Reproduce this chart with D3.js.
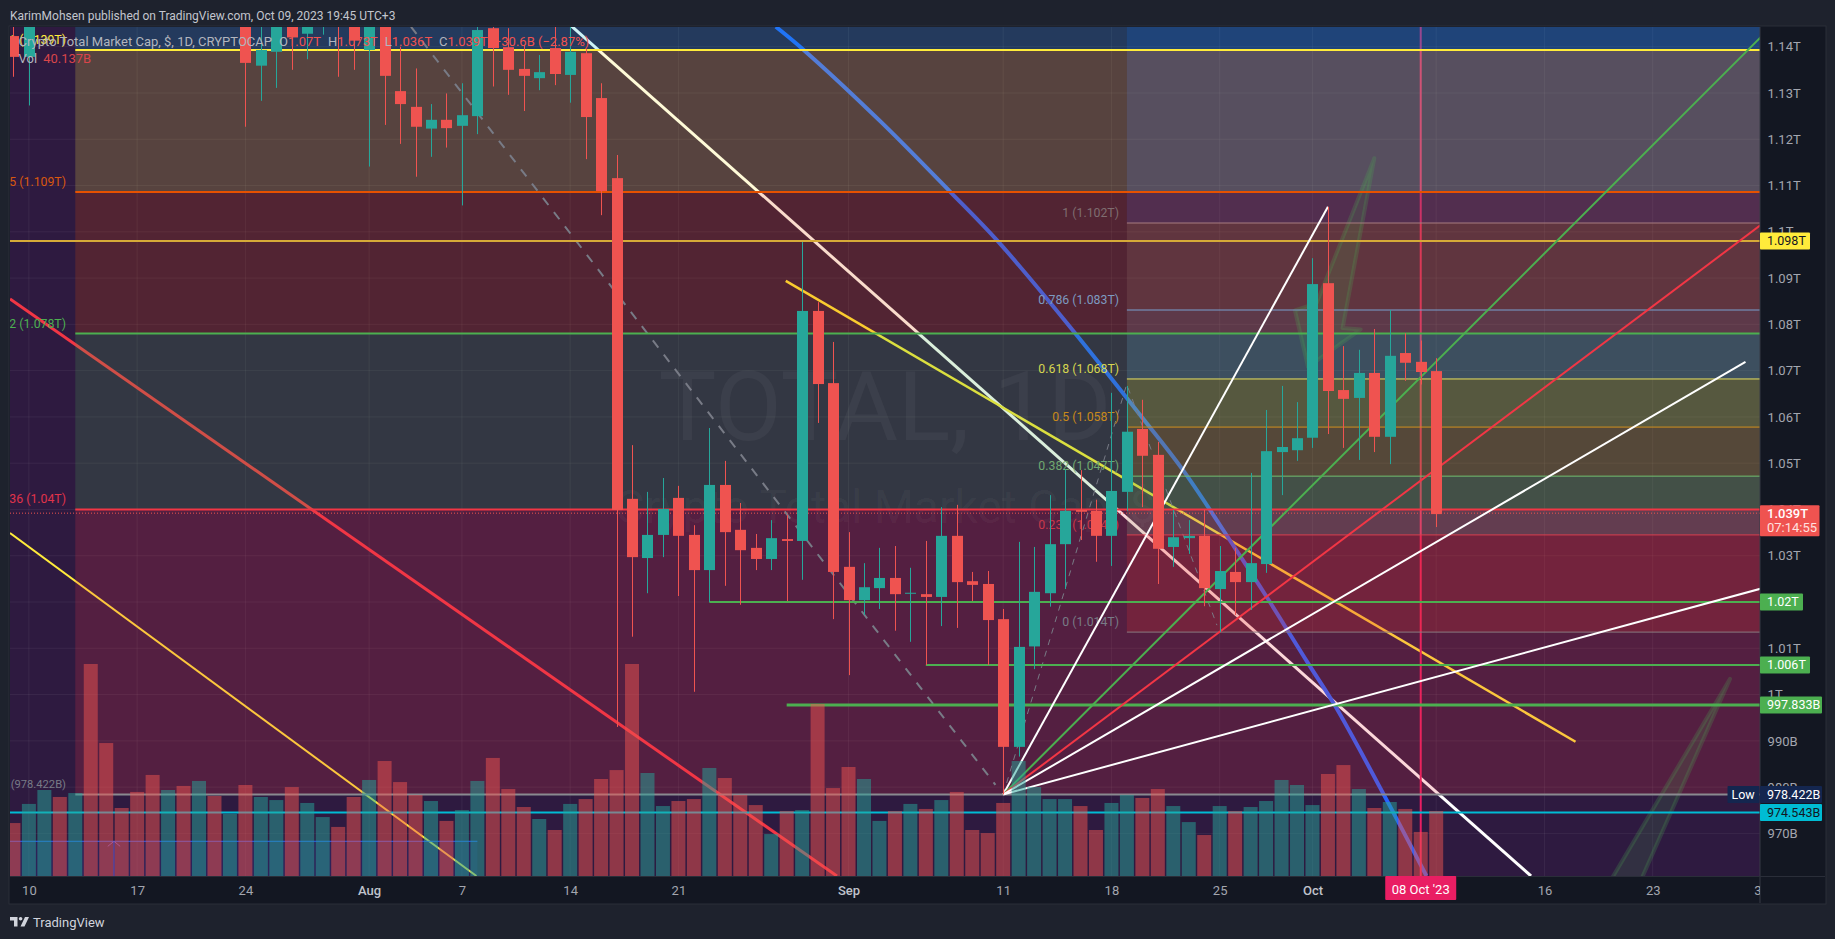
<!DOCTYPE html>
<html>
<head>
<meta charset="utf-8">
<style>
  html, body { margin: 0; padding: 0; background: #1e222d; overflow: hidden; }
  svg { display: block; }
  text { font-family: Roboto, "Liberation Sans", sans-serif; }
</style>
<script src="https://cdnjs.cloudflare.com/ajax/libs/d3/7.8.5/d3.min.js"></script>
</head>
<body>
<svg id="chart" width="1835" height="939"></svg>
<script>
// candles, day -1 (Jul 9) to day 91 (Oct 9), prices in billions
var opens = [1142.3,1137.8,1148,1156,1150,1162,1156,1152,1150,1149,1147,1152,1148,1153,1149,
  1147,1135.9,1138.9,1146,1142.8,1146,1150,1146,1139.3,1146,1130.4,1127,1122.3,1124.2,1122.9,1125,
  1144,1139.9,1135.2,1133.2,1139.7,1133.9,1138.6,1128.9,1111.6,1042.3,1029.5,1034.5,1042.5,1034.5,
  1026.9,1045.3,1035.6,1031.7,1029.3,1033.6,1033.2,1082.9,1067.3,1027.6,1020.4,1023,1025.2,1021.8,
  1021.7,1021.1,1034.3,1024.5,1023.9,1016.3,988.7,1010.4,1021.9,1032.5,1039.9,1039.7,1034.3,1043.8,
  1057.4,1051.8,1031.9,1033.8,1034.3,1022.8,1026.5,1024.3,1028.2,1052.4,1052.8,1055.5,1088.9,1065.8,
  1064.1,1069.5,1055.7,1073.8,1071.9,1069.9];
var highs = [1146,1150,1158,1158,1164,1165,1158,1154,1152,1151,1149,1154,1150,1155,1157,
  1150,1146,1148,1148,1148,1150,1152,1150,1148,1148,1140,1135.3,1127.6,1129.9,1132.1,1146,
  1147,1144,1140.4,1138.2,1146,1146,1139.6,1132.1,1116.6,1053.9,1043.8,1046.8,1045.1,1036.6,
  1057.6,1050.5,1041.4,1034.7,1037.7,1038.8,1097.8,1084.8,1076.2,1035.1,1028.4,1031.7,1032.1,1027.4,
  1033.2,1040.5,1041,1026.5,1026.7,1018.5,1033,1031.9,1043.1,1048.7,1048.5,1042.1,1065.2,1066.7,
  1063.7,1054.6,1039.9,1037.7,1039.9,1032.1,1031.7,1047.9,1061.5,1066.7,1063.2,1094.3,1105.4,1075.3,
  1074.5,1079,1083.1,1078.1,1076.5,1072.7];
var lows = [1133.5,1127.3,1146,1148,1148,1154,1150,1148,1147,1146,1145.5,1146,1146,1147,1146,
  1122.7,1128.3,1131.1,1135,1137.3,1142.6,1133.5,1135,1114.1,1123.1,1119,1111.9,1116.2,1118.2,1105.7,1121.1,
  1131.4,1129.6,1126.1,1130.6,1131.7,1127.9,1115.7,1103.6,993,1012.5,1021.9,1029.7,1021.3,1000.6,
  1020,1023.5,1019.4,1026.9,1026.9,1020.2,1024.8,1058.7,1016.3,1004.2,1017.2,1018.5,1013.8,1011.4,
  1006.4,1014.8,1014.4,1020.2,1006.4,978.42,986.6,1005.5,1019,1022.8,1033.4,1028.7,1027.8,1039.7,
  1040.5,1023.9,1027.6,1030.4,1019.1,1013.5,1017.2,1018.3,1026.3,1043.1,1050.5,1053.3,1056.3,1053.3,
  1050.7,1052.4,1049.8,1067.8,1067,1036.2];
var closes = [1137.8,1148,1156,1150,1162,1156,1152,1150,1149,1147,1152,1148,1153,1149,1155,
  1136.5,1139.3,1146,1142,1146,1148,1146,1141.3,1146,1133.7,1127.6,1122.7,1124.2,1122.4,1125.2,1143.6,
  1139.7,1135,1133.7,1134.5,1134.1,1138.9,1124.8,1108.8,1039.9,1029.7,1034.5,1040.1,1034.3,1026.9,
  1045.3,1035.1,1031.2,1029.3,1033.8,1033.2,1082.9,1067.1,1026.5,1020.4,1023.2,1025.2,1021.7,1022,
  1021.1,1034.3,1024.3,1023.7,1016.1,988.7,1010.3,1022.2,1032.5,1039.7,1039.5,1034.3,1044,1056.8,
  1051.6,1031.5,1034,1034.3,1023,1026.7,1024.3,1028.4,1052.6,1053.5,1055.4,1088.7,1065.6,1063.9,
  1069.5,1055.7,1073.2,1071.7,1069.7,1039];
var volumes = [32.7,44.5,53.1,48.8,51.2,130.9,82.1,42,51.9,62.4,53.1,55.6,58.7,49.4,38.3,
  56.2,48.8,46.9,54.9,45.1,36.4,30.3,48.8,59.3,71,58,50,46.3,34,40.7,58.7,
  72.9,53.7,42.6,35.2,28.4,44.5,47.5,59.9,65.4,130.9,63.6,43.2,46.3,47.5,
  66.7,60.5,50,43.8,25.9,40.1,40.7,106.2,54.3,67.3,59.9,34,40.1,44.5,
  41.4,46.9,51.9,28.4,26.5,45.1,71,54.9,47.5,47.5,43.2,28.4,45.1,50,
  48.2,53.7,43.2,33.3,25.3,43.2,40.1,42.6,46.3,59.3,56.2,43.8,63,68.5,
  53.7,42,45.7,41.4,27.2,40.137];

// axis ticks, days counted from Jul 10
var timeTickDays = [0,7,14,22,28,35,42,53,63,70,77,83,91,98,105,112];
var timeTickLabels = ["10","17","24","Aug","7","14","21","Sep","11","18","25","Oct","9","16","23","30"];
var priceTicks = [970,980,990,1000,1010,1020,1030,1040,1050,1060,1070,1080,1090,1100,1110,1120,1130,1140];

// fib zones, edges in billions
var leftEdges = [1145,1139.3,1108.6,1078,1040,978.42];
var leftTints = ["#00bcd4","#ffeb3b","#e65100","#4caf50","#f23645"];
var rightEdges = [1145,1139.3,1108.6,1101.9,1083.1,1078,1068.2,1057.8,1047.2,1040,1034.5,1013.5];
var rightTints = ["#0f6eed","#5a84e0","#535cc4","#997f74","#8a91a7","#6bb0d4","#e8dd34","#e38d16","#89b55c","#a0bb8c","#f0392d"];
var fibPrices = [1101.9,1083.1,1068.2,1057.8,1047.2,1034.5,1013.5];
var fibLabels = ["1 (1.102T)","0.786 (1.083T)","0.618 (1.068T)","0.5 (1.058T)","0.382 (1.047T)","0.236 (1.034T)","0 (1.014T)"];
var fibLineColors = ["#a87d80","#78a0d0","#e8e060","#d09020","#70c070","#d84050","#8a7a80"];
var fibTextColors = ["#7f6d70","#7d9ac0","#d6d650","#c98a1a","#70a870","#c8384a","#787b86"];

var leftLabelPrices = [1139.3,1108.6,1078,1040,978.42];
var leftLabels = ["1 (1.139T)","5 (1.109T)","2 (1.078T)","36 (1.04T)","(978.422B)"];
var leftLabelColors = ["#ffeb3b","#d9580f","#4caf50","#e0334a","#787b86"];

// trend lines as [day, price] pairs
var pivot = [63,978.42];
var backLines = [
  {pts:[[35,1144.7],[97.13,960.8]], color:"#ffffff", w:3},
  {pts:[[-1.22,1085.5],[52.25,960.8]], color:"#f23645", w:3},
  {pts:[[-1.22,1034.9],[28.94,960.8]], color:"#ffeb3b", w:2},
  {pts:[[48.94,1089.4],[100.01,989.8]], color:"#ffeb3b", w:2.5}
];
var blueArc = [[48.3,1144.3],[50.1,1139.3],[55.08,1123.8],[59.56,1108.7],[62.62,1098.1],[66.97,1080.9],
  [71.96,1060],[74.63,1048.5],[77.98,1031.7],[80.02,1021.2],[82.71,1006.8],[84.49,997.4],[87.69,977.9],[90.37,960.8]];
var dashedLines = [
  {pts:[[24.71,1144.3],[62.5,980.5]], w:2, dash:"9,9"},
  {pts:[pivot,[70.94,1066.5]], w:1, dash:"6,6"},
  {pts:[[71.07,1066.3],[76.82,1015]], w:1, dash:"6,6"}
];
var fanEnds = [[84,1105.4],[112,1142.1],[112,1101.5],[111,1071.9],[112,1022.9]];
var fanColors = ["#ffffff","#4caf50","#f23645","#ffffff","#ffffff"];
var arrowOne = [[87,1115.9],[84.95,1079.2],[86.12,1078.9],[82.71,1070.8],[81.87,1083],[83.27,1084.6]];
var arrowTwo = [[110,1003.4],[101.3,954.3],[103.5,954.3]];
var entryMark = [[5.1,967.2],[5.5,968.3],[5.9,967.2]];

// horizontal levels: price, first day, colour, width
var levelPrices = [1139.3,1108.6,1098,1078,1040,1020,1006.4,997.75,978.42,974.54];
var levelStarts = [3,3,-2,3,3,44,58,49,3,-2];
var levelColors = ["#ffeb3b","#e65100","#d6aa38","#4caf50","#f23645","#4caf50","#4caf50","#4caf50","#8a8a90","#00bcd4"];
var levelWidths = [2,2,2,2,2,2,2,3,2,2];

var svg = d3.select("#chart");
var plot = {left: 10, right: 1760, top: 27, bottom: 876};
var firstDay = Date.UTC(2023, 6, 10), DAY = 864e5;
function dayDate(d) { return new Date(firstDay + d * DAY); }

var x = d3.scaleUtc()
  .domain([dayDate(0), dayDate(105)])
  .range([28.9, 1652.7]);
var y = d3.scaleLinear()
  .domain([970, 1140])
  .range([833.4, 46.7]);
var vol = d3.scaleLinear()
  .domain([0, 130.9])
  .range([plot.bottom, plot.bottom - 212]);
function px(p) { return [x(dayDate(p[0])), y(p[1])]; }

function fmtPrice(v) {
  return v >= 1000 ? (v / 1000) + "T" : v + "B";
}

svg.append("clipPath").attr("id", "clip").append("rect")
  .attr("x", plot.left).attr("y", plot.top)
  .attr("width", plot.right - plot.left).attr("height", plot.bottom - plot.top);

// frame and axis panels
svg.append("rect").attr("x", 9).attr("y", 26).attr("width", 1817).attr("height", 878)
  .attr("fill", "#131722").attr("stroke", "#2a2e39");
var g = svg.append("g").attr("clip-path", "url(#clip)");
g.append("rect").attr("x", plot.left).attr("y", plot.top)
  .attr("width", plot.right - plot.left).attr("height", plot.bottom - plot.top)
  .attr("fill", "#2e1a40");

// grid and axes
var xAxis = d3.axisBottom(x)
  .tickValues(timeTickDays.map(dayDate))
  .tickFormat(function(d, i) { return timeTickLabels[i]; })
  .tickSize(0).tickPadding(0);
var yAxis = d3.axisRight(y)
  .tickValues(priceTicks)
  .tickFormat(fmtPrice)
  .tickSize(0).tickPadding(0);

g.selectAll(".vgrid").data(timeTickDays).enter().append("line")
  .attr("x1", function(d) { return x(dayDate(d)); })
  .attr("x2", function(d) { return x(dayDate(d)); })
  .attr("y1", plot.top).attr("y2", plot.bottom)
  .attr("stroke", "#ffffff").attr("stroke-opacity", 0.06);
g.selectAll(".hgrid").data(priceTicks).enter().append("line")
  .attr("x1", plot.left).attr("x2", plot.right)
  .attr("y1", function(d) { return y(d); })
  .attr("y2", function(d) { return y(d); })
  .attr("stroke", "#ffffff").attr("stroke-opacity", 0.06);

// drawings that sit under the fib fills
var lineGen = d3.line().x(function(p) { return px(p)[0]; }).y(function(p) { return px(p)[1]; });
g.selectAll(".back").data(backLines).enter().append("path")
  .attr("d", function(d) { return lineGen(d.pts); })
  .attr("fill", "none")
  .attr("stroke", function(d) { return d.color; })
  .attr("stroke-width", function(d) { return d.w; });
g.append("path")
  .attr("d", lineGen.curve(d3.curveCatmullRom)(blueArc))
  .attr("fill", "none").attr("stroke", "#2962ff").attr("stroke-width", 4);
lineGen.curve(d3.curveLinear);

// crosshair
g.append("line")
  .attr("x1", x(dayDate(90))).attr("x2", x(dayDate(90)))
  .attr("y1", plot.top).attr("y2", plot.bottom)
  .attr("stroke", "#e91e63").attr("stroke-width", 2);

// fib fills
function fillBands(edges, tints, startX) {
  g.selectAll(null).data(tints).enter().append("rect")
    .attr("x", startX).attr("width", plot.right - startX)
    .attr("y", function(d, i) { return y(edges[i]); })
    .attr("height", function(d, i) { return y(edges[i + 1]) - y(edges[i]); })
    .attr("fill", function(d) { return d; })
    .attr("fill-opacity", 0.2);
}
fillBands(leftEdges, leftTints, x(dayDate(3)));
fillBands(rightEdges, rightTints, x(dayDate(71)));

// watermark
g.append("text").attr("x", 885).attr("y", 440).attr("text-anchor", "middle")
  .attr("font-size", 97).attr("fill", "#ffffff").attr("fill-opacity", 0.045).text("TOTAL, 1D");
g.append("text").attr("x", 885).attr("y", 523).attr("text-anchor", "middle")
  .attr("font-size", 46).attr("fill", "#ffffff").attr("fill-opacity", 0.045).text("Crypto Total Market Cap, $");

// dashed drawings and arrows
g.selectAll(".dash").data(dashedLines).enter().append("path")
  .attr("d", function(d) { return lineGen(d.pts); })
  .attr("fill", "none").attr("stroke", "#787b86")
  .attr("stroke-width", function(d) { return d.w; })
  .attr("stroke-dasharray", function(d) { return d.dash; });
g.selectAll(".arrow").data([arrowOne, arrowTwo]).enter().append("path")
  .attr("d", function(d) { return lineGen(d) + "Z"; })
  .attr("fill", "#4caf50").attr("fill-opacity", 0.15)
  .attr("stroke", "#4caf50").attr("stroke-opacity", 0.22).attr("stroke-width", 4)
  .attr("stroke-linejoin", "round");

// blue position box bottom left
g.append("rect")
  .attr("x", plot.left).attr("y", y(968.3))
  .attr("width", x(dayDate(29)) - plot.left).attr("height", plot.bottom - y(968.3))
  .attr("fill", "#2962ff").attr("fill-opacity", 0.12);
g.append("line")
  .attr("x1", plot.left).attr("x2", x(dayDate(29)))
  .attr("y1", y(968.3)).attr("y2", y(968.3))
  .attr("stroke", "#2962ff").attr("stroke-width", 1);
g.append("line")
  .attr("x1", x(dayDate(5.5))).attr("x2", x(dayDate(5.5)))
  .attr("y1", y(968.3)).attr("y2", plot.bottom)
  .attr("stroke", "#6a5acd").attr("stroke-width", 1);
g.append("path").attr("d", lineGen(entryMark))
  .attr("fill", "none").attr("stroke", "#6a5acd");

// level lines
var levelIdx = d3.range(levelPrices.length);
g.selectAll(".level").data(levelIdx).enter().append("line")
  .attr("x1", function(i) { return x(dayDate(levelStarts[i])); })
  .attr("x2", plot.right)
  .attr("y1", function(i) { return y(levelPrices[i]); })
  .attr("y2", function(i) { return y(levelPrices[i]); })
  .attr("stroke", function(i) { return levelColors[i]; })
  .attr("stroke-width", function(i) { return levelWidths[i]; });

// second fib levels and labels
g.selectAll(".fibline").data(fibPrices).enter().append("line")
  .attr("x1", x(dayDate(71))).attr("x2", plot.right)
  .attr("y1", function(d) { return y(d); })
  .attr("y2", function(d) { return y(d); })
  .attr("stroke", function(d, i) { return fibLineColors[i]; });
g.selectAll(".fiblabel").data(fibPrices).enter().append("text")
  .attr("x", 1119).attr("y", function(d) { return y(d) - 6; })
  .attr("text-anchor", "end").attr("font-size", 12.3)
  .attr("fill", function(d, i) { return fibTextColors[i]; })
  .text(function(d, i) { return fibLabels[i]; });
g.selectAll(".leftlabel").data(leftLabelPrices).enter().append("text")
  .attr("x", 66).attr("y", function(d) { return y(d) - 6; })
  .attr("text-anchor", "end")
  .attr("font-size", function(d, i) { return i === 4 ? 11.2 : 12.3; })
  .attr("fill", function(d, i) { return leftLabelColors[i]; })
  .text(function(d, i) { return leftLabels[i]; });

// last price dotted line
g.append("line")
  .attr("x1", plot.left).attr("x2", plot.right)
  .attr("y1", y(1039.2)).attr("y2", y(1039.2))
  .attr("stroke", "#ef5350").attr("stroke-dasharray", "1,2");

// pitchfan
g.selectAll(".fan").data(fanEnds).enter().append("path")
  .attr("d", function(d) { return lineGen([pivot, d]); })
  .attr("fill", "none")
  .attr("stroke", function(d, i) { return fanColors[i]; })
  .attr("stroke-width", 2);

// volume
var UP = "#26a69a", DOWN = "#ef5350";
var days = d3.range(-1, 92);
function isUp(i) { return closes[i] >= opens[i]; }
g.selectAll(".vol").data(days).enter().append("rect")
  .attr("x", function(d) { return x(dayDate(d)) - 7; })
  .attr("width", 14)
  .attr("y", function(d, i) { return vol(volumes[i]); })
  .attr("height", function(d, i) { return plot.bottom - vol(volumes[i]); })
  .attr("fill", function(d, i) { return isUp(i) ? UP : DOWN; })
  .attr("fill-opacity", 0.5);

// candles
g.selectAll(".wick").data(days).enter().append("line")
  .attr("x1", function(d) { return Math.round(x(dayDate(d))) + 0.5; })
  .attr("x2", function(d) { return Math.round(x(dayDate(d))) + 0.5; })
  .attr("y1", function(d, i) { return y(highs[i]); })
  .attr("y2", function(d, i) { return y(lows[i]); })
  .attr("stroke", function(d, i) { return isUp(i) ? UP : DOWN; });
g.selectAll(".body").data(days).enter().append("rect")
  .attr("x", function(d) { return Math.round(x(dayDate(d))) - 5; })
  .attr("width", 11)
  .attr("y", function(d, i) { return y(Math.max(opens[i], closes[i])); })
  .attr("height", function(d, i) { return Math.max(1, Math.abs(y(opens[i]) - y(closes[i]))); })
  .attr("fill", function(d, i) { return isUp(i) ? UP : DOWN; });

// chart legend
var legend = g.append("text").attr("x", 18.6).attr("y", 46).attr("font-size", 13).attr("fill", "#b2b5be");
legend.append("tspan").text("Crypto Total Market Cap, $, 1D, CRYPTOCAP");
[["O","1.07T"],["H","1.073T"],["L","1.036T"],["C","1.039T"]].forEach(function(p) {
  legend.append("tspan").text(p[0]).attr("dx", 7);
  legend.append("tspan").text(p[1]).attr("fill", "#ef5350");
});
legend.append("tspan").text("\u221230.6B (\u22122.87%)").attr("fill", "#ef5350").attr("dx", 6);
var volText = g.append("text").attr("x", 18.6).attr("y", 63).attr("font-size", 13).attr("fill", "#b2b5be");
volText.append("tspan").text("Vol");
volText.append("tspan").text("40.137B").attr("fill", "#d8454a").attr("dx", 6);

// price axis
var yg = svg.append("g").attr("transform", "translate(1767.6,0)").call(yAxis);
yg.select(".domain").remove();
yg.selectAll("text").attr("x", 0).attr("font-size", 13).attr("fill", "#a3a6af");
svg.append("line").attr("x1", plot.right).attr("x2", plot.right).attr("y1", 27).attr("y2", 903).attr("stroke", "#363a45");
svg.append("line").attr("x1", 10).attr("x2", 1825).attr("y1", 876.5).attr("y2", 876.5).attr("stroke", "#2a2e39");

// time axis
svg.append("clipPath").attr("id", "timeclip").append("rect")
  .attr("x", plot.left).attr("y", -20).attr("width", plot.right - plot.left).attr("height", 40);
var xg = svg.append("g").attr("transform", "translate(0,890)").call(xAxis);
xg.select(".domain").remove();
xg.selectAll("text").attr("y", 0).attr("dy", "0.35em").attr("font-size", 13)
  .attr("fill", function(d, i) { return /[A-Z]/.test(timeTickLabels[i]) ? "#c0c3cc" : "#a3a6af"; })
  .attr("font-weight", function(d, i) { return /[A-Z]/.test(timeTickLabels[i]) ? 500 : 400; });
xg.attr("clip-path", "url(#timeclip)");

// price tags
var tagPrices = [1098,1020,1006.4,997.75,978.42,974.54];
var tagTexts = ["1.098T","1.02T","1.006T","997.833B","978.422B","974.543B"];
var tagWidths = [50,43,50,62,62,62];
var tagFills = ["#ffeb3b","#4caf50","#4caf50","#4caf50","#14264f","#00bcd4"];
var tagInk = ["#131722","#ffffff","#ffffff","#ffffff","#ffffff","#131722"];
function tag(x0, cy, w, h, fill, ink, txt, weight) {
  svg.append("rect").attr("x", x0).attr("y", cy - h / 2).attr("width", w).attr("height", h)
    .attr("rx", 1).attr("fill", fill);
  svg.append("text").attr("x", x0 + (txt === "Low" ? 4 : 7)).attr("y", cy).attr("dy", "0.35em")
    .attr("font-size", 12.5).attr("fill", ink).attr("font-weight", weight || 400).text(txt);
}
tagPrices.forEach(function(p, i) {
  tag(plot.right, y(p), tagWidths[i], 17, tagFills[i], tagInk[i], tagTexts[i]);
});
tag(1727.5, y(978.42), 32, 17, "#14264f", "#ffffff", "Low");

svg.append("rect").attr("x", plot.right).attr("y", y(1039.2) - 8).attr("width", 59.5).attr("height", 31)
  .attr("rx", 1).attr("fill", "#ef5350");
svg.append("text").attr("x", 1767).attr("y", y(1039.2) + 4.5).attr("font-size", 13).attr("font-weight", 500)
  .attr("fill", "#ffffff").text("1.039T");
svg.append("text").attr("x", 1767).attr("y", y(1039.2) + 19).attr("font-size", 13)
  .attr("fill", "#ffe0df").text("07:14:55");

// crosshair date tag
svg.append("rect").attr("x", x(dayDate(90)) - 35.5).attr("y", 876).attr("width", 71).attr("height", 24)
  .attr("rx", 1).attr("fill", "#e91e63");
svg.append("text").attr("x", x(dayDate(90))).attr("y", 889).attr("dy", "0.35em").attr("text-anchor", "middle")
  .attr("font-size", 13).attr("fill", "#ffffff").text("08 Oct '23");

// header and footer
svg.append("text").attr("x", 10).attr("y", 19.5).attr("font-size", 12).attr("fill", "#c3c6ce")
  .text("KarimMohsen published on TradingView.com, Oct 09, 2023 19:45 UTC+3");
svg.append("path").attr("fill", "#d1d4dc")
  .attr("d", "M10 917h7.5v9.5h-3.5v-6h-4zM25 917h4l-4.5 9.5h-4z");
svg.append("circle").attr("cx", 20.6).attr("cy", 918.8).attr("r", 1.8).attr("fill", "#d1d4dc");
svg.append("text").attr("x", 33).attr("y", 926.5).attr("font-size", 13).attr("fill", "#d1d4dc").text("TradingView");
</script>
</body>
</html>
